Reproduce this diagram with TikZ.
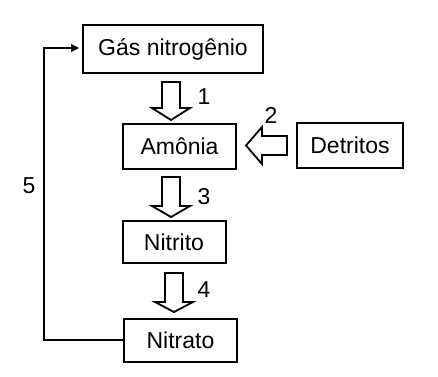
\documentclass[tikz,border=0pt]{standalone}
\usepackage{fontspec}
\setmainfont{Liberation Sans}
\usetikzlibrary{arrows.meta,calc}
\begin{document}
\begin{tikzpicture}[x=1pt,y=-1pt,
  box/.style={draw,line width=2pt,inner sep=0pt,font=\fontsize{23}{26}\selectfont},
  lbl/.style={font=\fontsize{23}{26}\selectfont,inner sep=0pt},
  blk/.style={draw,line width=1.8pt,line join=miter},
  loop/.style={line width=1.2pt,-{Triangle[length=8pt,width=8pt]}}]
\useasboundingbox (0,0) rectangle (438,376);
\node[box,minimum width=180pt,minimum height=48pt] (gas) at (173,49) {Gás nitrogênio};
\node[box,minimum width=113pt,minimum height=45pt] (amo) at (179.5,146.5) {Amônia};
\node[box,minimum width=106pt,minimum height=45pt] (det) at (350,145.5) {Detritos};
\node[box,minimum width=103pt,minimum height=42pt] (nii) at (174,242) {Nitrito};
\node[box,minimum width=113pt,minimum height=43pt] (nia) at (180.5,340) {Nitrato};
% block arrow 1
\draw[blk] (162,82) -- (180,82) -- (180,108) -- (190,108) -- (171,120) -- (152,108) -- (162,108) -- cycle;
\node[lbl] (l1) at (204,97) {1};
% block arrow 2
\draw[blk] (287,136) -- (287,155) -- (262,155) -- (262,164) -- (246,145.5) -- (262,127) -- (262,136) -- cycle;
\node[lbl] (l2) at (271,115) {2};
% block arrow 3
\draw[blk] (162,177) -- (180,177) -- (180,206) -- (190,206) -- (171,217) -- (152,206) -- (162,206) -- cycle;
\node[lbl] (l3) at (204,197) {3};
% block arrow 4
\draw[blk] (165,273) -- (183,273) -- (183,302) -- (193,302) -- (174,312) -- (155,302) -- (165,302) -- cycle;
\node[lbl] (l4) at (204,290) {4};
% loop 5
\coordinate (c1) at (44,340);
\coordinate (c2) at (44,48);
\draw[loop] (nia.west) -- (c1) -- (c2) -- ($(gas.west)+(-3,-1)$);
\node[lbl] (l5) at (29,186) {5};
\end{tikzpicture}
\end{document}
